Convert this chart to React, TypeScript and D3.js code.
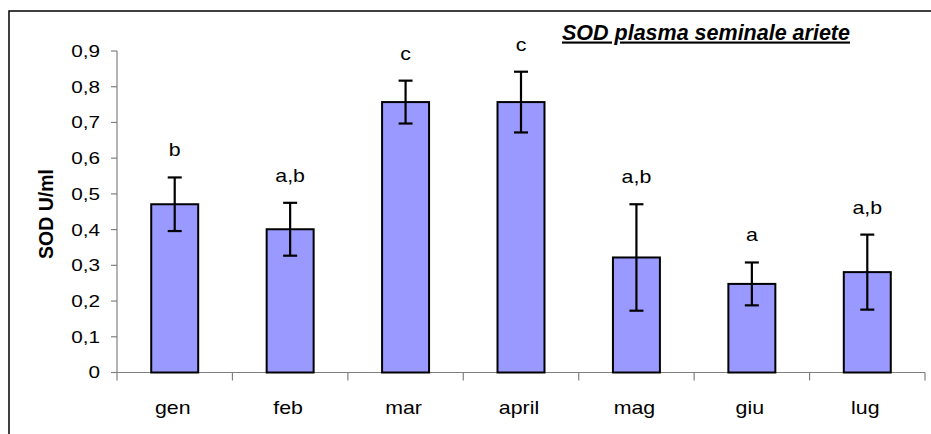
import React, { useRef, useEffect } from "react";
import * as d3 from "d3";

const months = ["gen", "feb", "mar", "april", "mag", "giu", "lug"];
const sodMean = [0.471, 0.401, 0.757, 0.757, 0.322, 0.248, 0.281];
const sodErr = [0.075, 0.074, 0.06, 0.085, 0.149, 0.06, 0.105];
const letters = ["b", "a,b", "c", "c", "a,b", "a", "a,b"];
const yTicks = [0, 0.1, 0.2, 0.3, 0.4, 0.5, 0.6, 0.7, 0.8, 0.9];

const W = 931;
const H = 434;
const FONT = "'Liberation Sans', Arial, sans-serif";
const STRETCH = 1.22; // text in the original is a bit wider than tall

const App = () => {
  const svgRef = useRef<SVGSVGElement>(null);

  useEffect(() => {
    const svg = d3.select(svgRef.current);
    svg.selectAll("*").remove();

    const left = 117;
    const right = 925;
    const bottom = 372.5;
    const top = 51;

    const x = d3
      .scaleBand()
      .domain(months)
      .range([left, right])
      .paddingInner(0.593)
      .paddingOuter(0.593 / 2);
    const y = d3.scaleLinear().domain([0, 0.9]).range([bottom, top]);

    // outer frame (runs off the right and bottom of the picture)
    svg
      .append("rect")
      .attr("x", 9)
      .attr("y", 11)
      .attr("width", 2000)
      .attr("height", 2000)
      .attr("fill", "none")
      .attr("stroke", "#000")
      .attr("stroke-width", 1.5);

    // y axis
    svg
      .append("line")
      .attr("x1", left)
      .attr("x2", left)
      .attr("y1", top)
      .attr("y2", bottom)
      .attr("stroke", "#808080")
      .attr("stroke-width", 1.2);
    svg
      .selectAll(".ytick")
      .data(yTicks)
      .enter()
      .append("line")
      .attr("x1", left - 6)
      .attr("x2", left)
      .attr("y1", (d) => y(d))
      .attr("y2", (d) => y(d))
      .attr("stroke", "#808080")
      .attr("stroke-width", 1.2);
    svg
      .selectAll(".ylab")
      .data(yTicks)
      .enter()
      .append("text")
      .attr("transform", (d) => `translate(100,${y(d)}) scale(${STRETCH},1)`)
      .attr("dy", "0.35em")
      .attr("text-anchor", "end")
      .attr("font-family", FONT)
      .attr("font-size", 17)
      .text((d) => String(d).replace(".", ","));

    // x axis
    svg
      .append("line")
      .attr("x1", left)
      .attr("x2", right)
      .attr("y1", bottom)
      .attr("y2", bottom)
      .attr("stroke", "#808080")
      .attr("stroke-width", 1.2);
    const step = x.step();
    svg
      .selectAll(".xtick")
      .data(d3.range(months.length + 1))
      .enter()
      .append("line")
      .attr("x1", (i) => left + i * step)
      .attr("x2", (i) => left + i * step)
      .attr("y1", bottom)
      .attr("y2", bottom + 8)
      .attr("stroke", "#808080")
      .attr("stroke-width", 1.2);
    svg
      .selectAll(".xlab")
      .data(months)
      .enter()
      .append("text")
      .attr(
        "transform",
        (d) => `translate(${x(d)! + x.bandwidth() / 2 - 2},413.5) scale(${STRETCH},1)`
      )
      .attr("text-anchor", "middle")
      .attr("font-family", FONT)
      .attr("font-size", 17.5)
      .text((d) => d);

    // bars
    svg
      .selectAll(".bar")
      .data(sodMean)
      .enter()
      .append("rect")
      .attr("x", (d, i) => x(months[i])!)
      .attr("y", (d) => y(d))
      .attr("width", x.bandwidth())
      .attr("height", (d) => bottom - y(d))
      .attr("fill", "#9999FF")
      .attr("stroke", "#000")
      .attr("stroke-width", 2);

    // error bars
    const eb = svg
      .selectAll(".err")
      .data(sodMean)
      .enter()
      .append("g")
      .attr("stroke", "#000")
      .attr("stroke-width", 2.2);
    const cx = (i: number) => x(months[i])! + x.bandwidth() / 2;
    eb.append("line")
      .attr("x1", (d, i) => cx(i))
      .attr("x2", (d, i) => cx(i))
      .attr("y1", (d, i) => y(d + sodErr[i]))
      .attr("y2", (d, i) => y(d - sodErr[i]));
    eb.append("line")
      .attr("x1", (d, i) => cx(i) - 7)
      .attr("x2", (d, i) => cx(i) + 7)
      .attr("y1", (d, i) => y(d + sodErr[i]))
      .attr("y2", (d, i) => y(d + sodErr[i]));
    eb.append("line")
      .attr("x1", (d, i) => cx(i) - 7)
      .attr("x2", (d, i) => cx(i) + 7)
      .attr("y1", (d, i) => y(d - sodErr[i]))
      .attr("y2", (d, i) => y(d - sodErr[i]));

    // significance letters
    svg
      .selectAll(".letter")
      .data(letters)
      .enter()
      .append("text")
      .attr(
        "transform",
        (d, i) =>
          `translate(${cx(i)},${y(sodMean[i] + sodErr[i]) - 21}) scale(${STRETCH},1)`
      )
      .attr("text-anchor", "middle")
      .attr("font-family", FONT)
      .attr("font-size", 17.5)
      .text((d) => d);

    // y axis title
    svg
      .append("text")
      .attr("transform", "translate(53,214) rotate(-90)")
      .attr("text-anchor", "middle")
      .attr("font-family", FONT)
      .attr("font-size", 19.5)
      .attr("font-weight", "bold")
      .text("SOD U/ml");

    // chart title
    svg
      .append("text")
      .attr("x", 706)
      .attr("y", 39.5)
      .attr("text-anchor", "middle")
      .attr("font-family", FONT)
      .attr("font-size", 21.5)
      .attr("font-weight", "bold")
      .attr("font-style", "italic")
      .style("text-decoration", "underline")
      .text("SOD plasma seminale ariete");
  }, []);

  return (
    <svg
      ref={svgRef}
      width={W}
      height={H}
      style={{ position: "absolute", left: 0, top: 0, background: "#fff" }}
    ></svg>
  );
};

export default App;
